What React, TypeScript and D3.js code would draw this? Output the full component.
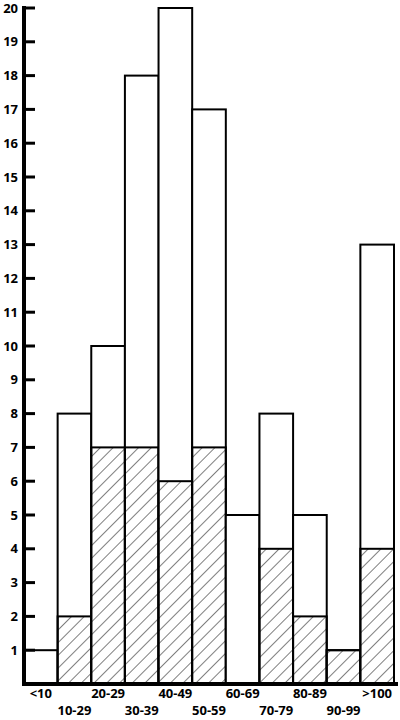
import React from 'react';
import { scaleBand, scaleLinear, range } from 'd3';

const categories = ['<10', '10-29', '20-29', '30-39', '40-49', '50-59', '60-69', '70-79', '80-89', '90-99', '>100'];
const totals = [1, 8, 10, 18, 20, 17, 5, 8, 5, 1, 13];
const hatched = [0, 2, 7, 7, 6, 7, 0, 4, 2, 1, 4];
const yTicks = range(1, 21);

const W = 400;
const H = 720;
const left = 24;
const right = 394;
const top = 8;
const bottom = 684;

export default function App() {
    const x = scaleBand().domain(categories).range([left, right]).padding(0);
    const y = scaleLinear().domain([0, 20]).range([bottom, top]);
    const font = "'Open Sans', 'DejaVu Sans', sans-serif";

    return (
        <svg
            width={W}
            height={H}
            style={{ position: 'absolute', left: 0, top: 0, background: '#fff' }}
        >
            <defs>
                <pattern id="hatch" patternUnits="userSpaceOnUse" width="9" height="9"
                    patternTransform="rotate(45)">
                    <line x1="0" y1="0" x2="0" y2="9" stroke="#000" strokeWidth="1" />
                </pattern>
            </defs>

            {/* bars: white total, hatched part drawn over the bottom */}
            {categories.map((c, i) => (
                <g key={c}>
                    <rect
                        x={x(c)}
                        y={y(totals[i])}
                        width={x.bandwidth()}
                        height={y(0) - y(totals[i])}
                        fill="#fff"
                        stroke="#000"
                        strokeWidth={2}
                    />
                    {hatched[i] > 0 && (
                        <rect
                            x={x(c)}
                            y={y(hatched[i])}
                            width={x.bandwidth()}
                            height={y(0) - y(hatched[i])}
                            fill="url(#hatch)"
                            stroke="#000"
                            strokeWidth={2}
                        />
                    )}
                </g>
            ))}

            {/* y axis */}
            <line x1={left} x2={left} y1={top - 2} y2={bottom + 2} stroke="#000" strokeWidth={4} />
            {yTicks.map(t => (
                <g key={t}>
                    <line x1={left} x2={35} y1={y(t)} y2={y(t)} stroke="#000" strokeWidth={3} />
                    <text
                        x={18}
                        y={y(t)}
                        dy="0.36em"
                        textAnchor="end"
                        fontFamily={font}
                        fontWeight="bold"
                        fontSize={13}
                    >
                        {t}
                    </text>
                </g>
            ))}

            {/* x axis, labels staggered on two rows */}
            <line x1={left - 2} x2={398} y1={bottom} y2={bottom} stroke="#000" strokeWidth={4} />
            {categories.map((c, i) => (
                <text
                    key={c}
                    x={x(c) + x.bandwidth() / 2}
                    y={i % 2 === 0 ? 698 : 715}
                    textAnchor="middle"
                    fontFamily={font}
                    fontWeight="bold"
                    fontSize={13}
                >
                    {c}
                </text>
            ))}
        </svg>
    );
}
